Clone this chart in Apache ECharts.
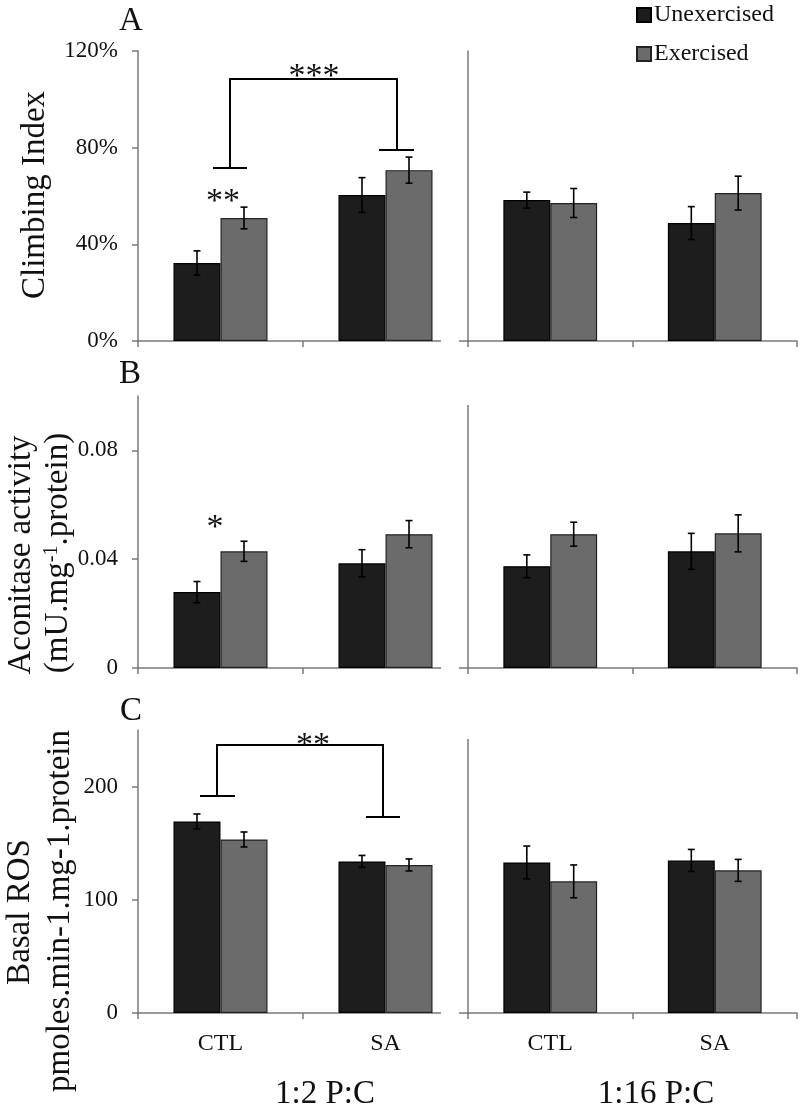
<!DOCTYPE html>
<html>
<head>
<meta charset="utf-8">
<script src="https://cdn.jsdelivr.net/npm/echarts@6/dist/echarts.min.js"></script>
<style>html,body{margin:0;padding:0;background:#fff}#c{width:800px;height:1111px}</style>
</head>
<body>
<div id="c"></div>
<script>
// ---------- data ----------
const categories = ['CTL', 'SA'];
const seriesNames = ['Unexercised', 'Exercised'];

// Panel A: Climbing Index (%)
const climbLowUnex = [32.3, 60.4];
const climbLowUnexErr = [5.0, 7.2];
const climbLowEx = [50.9, 70.7];
const climbLowExErr = [4.5, 5.4];
const climbHighUnex = [58.3, 48.8];
const climbHighUnexErr = [3.3, 6.8];
const climbHighEx = [57.1, 61.2];
const climbHighExErr = [6.0, 7.0];
const climbTicks = [0, 40, 80, 120];

// Panel B: Aconitase activity
const acoLowUnex = [0.0279, 0.0385];
const acoLowUnexErr = [0.0039, 0.0050];
const acoLowEx = [0.0429, 0.0492];
const acoLowExErr = [0.0037, 0.0050];
const acoHighUnex = [0.0374, 0.0429];
const acoHighUnexErr = [0.0042, 0.0066];
const acoHighEx = [0.0492, 0.0495];
const acoHighExErr = [0.0044, 0.0068];
const acoTicks = [0, 0.04, 0.08];

// Panel C: Basal ROS
const rosLowUnex = [169.2, 133.9];
const rosLowUnexErr = [6.6, 5.3];
const rosLowEx = [153.3, 130.8];
const rosLowExErr = [6.6, 5.3];
const rosHighUnex = [133.0, 134.8];
const rosHighUnexErr = [14.5, 9.7];
const rosHighEx = [116.3, 126.0];
const rosHighExErr = [14.5, 9.7];
const rosTicks = [0, 100, 200];

const groupLabels = ['1:2 P:C', '1:16 P:C'];

// ---------- styles ----------
const FONT = '"Liberation Serif", "Times New Roman", serif';
const AXIS_COLOR = '#7a7a7a';
const UNEX_COLOR = '#1d1d1d';
const EX_COLOR = '#6b6b6b';
const BAR_FRAC = 0.285;

const panels = [
  {top: 51, height: 290, max: 120, ticks: climbTicks, fmt: v => v + '%',
   sets: [[climbLowUnex, climbLowUnexErr, climbLowEx, climbLowExErr],
          [climbHighUnex, climbHighUnexErr, climbHighEx, climbHighExErr]]},
  {top: 396, height: 272, max: 0.1, ticks: acoTicks, fmt: v => String(v),
   sets: [[acoLowUnex, acoLowUnexErr, acoLowEx, acoLowExErr],
          [acoHighUnex, acoHighUnexErr, acoHighEx, acoHighExErr]]},
  {top: 730, height: 283, max: 250, ticks: rosTicks, fmt: v => String(v),
   sets: [[rosLowUnex, rosLowUnexErr, rosLowEx, rosLowExErr],
          [rosHighUnex, rosHighUnexErr, rosHighEx, rosHighExErr]]}
];

const grids = [], xAxes = [], yAxes = [], series = [];

function renderErr(params, api) {
  const ci = api.value(0), v = api.value(1), e = api.value(2), side = api.value(3);
  const band = api.size([1, 0])[0];
  const off = side * band * BAR_FRAC / 2;
  const t = api.coord([ci, v + e]);
  const b = api.coord([ci, v - e]);
  const x = t[0] + off;
  const cap = 3.5;
  const st = {stroke: '#000', lineWidth: 1.6};
  return {type: 'group', children: [
    {type: 'line', shape: {x1: x, y1: t[1], x2: x, y2: b[1]}, style: st},
    {type: 'line', shape: {x1: x - cap, y1: t[1], x2: x + cap, y2: t[1]}, style: st},
    {type: 'line', shape: {x1: x - cap, y1: b[1], x2: x + cap, y2: b[1]}, style: st}
  ]};
}

panels.forEach((p, pi) => {
  [0, 1].forEach(side => {
    const gi = grids.length;
    grids.push({left: side === 0 ? 138 : 468, top: p.top, width: side === 0 ? 330 : 329, height: p.height});
    xAxes.push({
      type: 'category', gridIndex: gi, data: categories,
      axisLine: {lineStyle: {color: AXIS_COLOR, width: 1.5}},
      axisTick: {show: true, length: 6, lineStyle: {color: AXIS_COLOR, width: 1.5}},
      axisLabel: {show: pi === 2, fontFamily: FONT, fontSize: 24, color: '#111', margin: 19}
    });
    yAxes.push({
      type: 'value', gridIndex: gi, min: 0, max: p.max,
      splitLine: {show: false},
      axisLine: {show: true, lineStyle: {color: AXIS_COLOR, width: 1.5}},
      axisTick: {show: side === 0, length: 6, lineStyle: {color: AXIS_COLOR, width: 1.5}, customValues: p.ticks},
      axisLabel: {show: side === 0, customValues: p.ticks, formatter: p.fmt,
                  fontFamily: FONT, fontSize: 23, color: '#111', margin: 20}
    });
    const [u, ue, e, ee] = p.sets[side];
    series.push({
      name: seriesNames[0], type: 'bar', xAxisIndex: gi, yAxisIndex: gi, data: u,
      barWidth: (BAR_FRAC * 100) + '%', barGap: '0%',
      itemStyle: {color: UNEX_COLOR, borderColor: '#000', borderWidth: 1.2}
    });
    series.push({
      name: seriesNames[1], type: 'bar', xAxisIndex: gi, yAxisIndex: gi, data: e,
      barWidth: (BAR_FRAC * 100) + '%', barGap: '0%',
      itemStyle: {color: EX_COLOR, borderColor: '#222', borderWidth: 1.2}
    });
    const errData = [];
    categories.forEach((c, ci) => {
      errData.push([ci, u[ci], ue[ci], -1]);
      errData.push([ci, e[ci], ee[ci], 1]);
    });
    series.push({
      type: 'custom', xAxisIndex: gi, yAxisIndex: gi, data: errData, z: 5,
      encode: {x: 0, y: 1}, renderItem: renderErr, silent: true
    });
  });
});

// ---------- annotations (decorative text / brackets) ----------
const ln = (pts) => ({type: 'polyline', shape: {points: pts}, style: {stroke: '#000', lineWidth: 2, fill: null}, z: 10});
const txt = (x, y, text, size, extra) => ({
  type: 'text', x: x, y: y, z: 10,
  style: Object.assign({text: text, fontFamily: FONT, fontSize: size, fill: '#111', align: 'center', verticalAlign: 'middle'}, extra || {})
});

const graphics = [
  // gaps between left and right x-axis lines
  {type: 'rect', shape: {x: 441, y: 337, width: 18, height: 12}, style: {fill: '#fff'}, z: 9},
  {type: 'rect', shape: {x: 441, y: 664, width: 18, height: 12}, style: {fill: '#fff'}, z: 9},
  {type: 'rect', shape: {x: 441, y: 1009, width: 18, height: 12}, style: {fill: '#fff'}, z: 9},
  // right axes start slightly lower in panels B and C
  {type: 'rect', shape: {x: 464, y: 390, width: 8, height: 15}, style: {fill: '#fff'}, z: 9},
  {type: 'rect', shape: {x: 464, y: 725, width: 8, height: 14}, style: {fill: '#fff'}, z: 9},
  // panel letters
  txt(131, 21, 'A', 33),
  txt(130, 374, 'B', 33),
  txt(131, 711, 'C', 33),
  // Panel A brackets
  ln([[213, 168], [247, 168]]),
  ln([[230, 168], [230, 79], [397, 79], [397, 150]]),
  ln([[379, 150], [414, 150]]),
  txt(314, 77, '***', 34),
  txt(223, 202, '**', 34),
  // Panel B
  txt(215, 528, '*', 34),
  // Panel C bracket
  ln([[200, 796], [235, 796]]),
  ln([[217, 796], [217, 745], [383, 745], [383, 817]]),
  ln([[366, 817], [400, 817]]),
  txt(313, 746, '**', 34),
  // y-axis names
  {type: 'text', x: 35, y: 195, rotation: Math.PI / 2, z: 10,
   style: {text: 'Climbing Index', fontFamily: FONT, fontSize: 33, fill: '#111', align: 'center', verticalAlign: 'middle'}},
  {type: 'text', x: 21, y: 555, rotation: Math.PI / 2, z: 10,
   style: {text: 'Aconitase activity', fontFamily: FONT, fontSize: 33, fill: '#111', align: 'center', verticalAlign: 'middle'}},
  {type: 'text', x: 58, y: 553, rotation: Math.PI / 2, z: 10,
   style: {text: '(mU.mg{sup|-1}.protein)', fontFamily: FONT, fontSize: 33, fill: '#111', align: 'center', verticalAlign: 'middle',
           rich: {sup: {fontFamily: FONT, fontSize: 20, fill: '#111', verticalAlign: 'top'}}}},
  {type: 'text', x: 20, y: 912, rotation: Math.PI / 2, z: 10,
   style: {text: 'Basal ROS', fontFamily: FONT, fontSize: 33, fill: '#111', align: 'center', verticalAlign: 'middle'}},
  {type: 'text', x: 60, y: 911, rotation: Math.PI / 2, z: 10,
   style: {text: 'pmoles.min-1.mg-1.protein', fontFamily: FONT, fontSize: 33, fill: '#111', align: 'center', verticalAlign: 'middle'}},
  // group labels
  txt(325, 1094, groupLabels[0], 33),
  txt(656, 1094, groupLabels[1], 33)
];

const chart = echarts.init(document.getElementById('c'), null, {renderer: 'canvas'});
chart.setOption({
  animation: false,
  backgroundColor: '#fff',
  grid: grids,
  xAxis: xAxes,
  yAxis: yAxes,
  legend: {
    data: seriesNames, orient: 'vertical', left: 636, top: 3, padding: 0,
    icon: 'rect', itemWidth: 14, itemHeight: 14, itemGap: 15,
    textStyle: {fontFamily: FONT, fontSize: 24, color: '#111', padding: [0, 0, 0, -2]}
  },
  series: series,
  graphic: graphics
});
</script>
</body>
</html>
